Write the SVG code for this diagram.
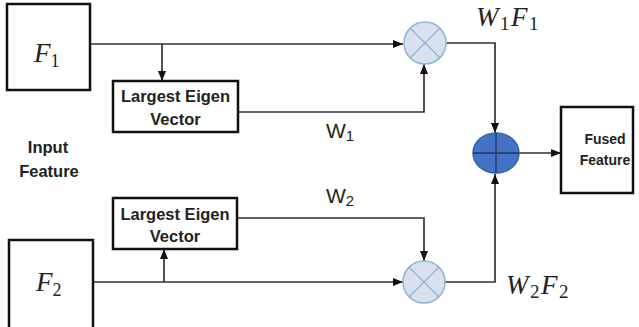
<svg xmlns="http://www.w3.org/2000/svg" width="639" height="327" viewBox="0 0 639 327">
<style>
.box{fill:#fff;stroke:#111;stroke-width:2.5}
.conn{fill:none;stroke:#333;stroke-width:1.7}
.lbl{font-family:"Liberation Sans",Arial,sans-serif;font-weight:bold;font-size:16.5px;fill:#222;text-anchor:middle}
.sm{font-size:14px}
.math{font-family:"Liberation Serif","Times New Roman",serif;font-style:italic;fill:#222}
.wl{font-family:"Liberation Sans",Arial,sans-serif;fill:#222}
.mul{fill:#d9e1ec;stroke:#8db3dc;stroke-width:1.5}
.mulx{stroke:#8db3dc;stroke-width:1.3}
.sum{fill:#4472c4;stroke:#3a64b0;stroke-width:1.5}
.sumx{stroke:#1f3864;stroke-width:1.3}
</style>
<defs>
<marker id="ah" markerUnits="userSpaceOnUse" markerWidth="10" markerHeight="10" viewBox="0 0 10 10" refX="10" refY="5" orient="auto">
<path d="M0,1 L10,5 L0,9 Z" fill="#111"/>
</marker>
</defs>
<rect width="639" height="327" fill="#fff"/>
<g id="connectors">
<path class="conn" d="M90,44 H403" marker-end="url(#ah)"/>
<path class="conn" d="M162,44 V81" marker-end="url(#ah)"/>
<path class="conn" d="M238,112 H424 V64" marker-end="url(#ah)"/>
<path class="conn" d="M446,43 H495 V133" marker-end="url(#ah)"/>
<path class="conn" d="M519,153 H561" marker-end="url(#ah)"/>
<path class="conn" d="M92,282 H403" marker-end="url(#ah)"/>
<path class="conn" d="M164,282 V249" marker-end="url(#ah)"/>
<path class="conn" d="M237,218 H424 V261" marker-end="url(#ah)"/>
<path class="conn" d="M445,282 H495 V174" marker-end="url(#ah)"/>
</g>
<g id="F1">
<rect class="box" x="7" y="4" width="83" height="86"/>
<text class="math" x="34" y="62" font-size="27">F<tspan font-style="normal" font-size="18" dy="5">1</tspan></text>
</g>
<g id="F2">
<rect class="box" x="9" y="240" width="84" height="90"/>
<text class="math" x="36" y="291" font-size="27">F<tspan font-style="normal" font-size="18" dy="5">2</tspan></text>
</g>
<g id="input-feature">
<text class="lbl" x="48" y="153">Input</text>
<text class="lbl" x="49" y="177">Feature</text>
</g>
<g id="eigen1">
<rect class="box" x="113" y="81" width="125" height="51"/>
<text class="lbl" x="175.5" y="102">Largest Eigen</text>
<text class="lbl" x="175.5" y="125">Vector</text>
</g>
<g id="eigen2">
<rect class="box" x="113" y="198" width="124" height="51"/>
<text class="lbl" x="175" y="220">Largest Eigen</text>
<text class="lbl" x="175" y="242">Vector</text>
</g>
<g id="mult1">
<circle class="mul" cx="425" cy="43" r="21"/>
<path class="mulx" d="M410.2,28.2 L439.8,57.8 M439.8,28.2 L410.2,57.8"/>
</g>
<g id="mult2">
<circle class="mul" cx="424" cy="282" r="21"/>
<path class="mulx" d="M409.2,267.2 L438.8,296.8 M438.8,267.2 L409.2,296.8"/>
</g>
<g id="sum">
<ellipse class="sum" cx="496" cy="153" rx="23" ry="20"/>
<path class="sumx" d="M473,153 H519 M496,133 V173"/>
</g>
<g id="fused">
<rect class="box" x="561" y="107" width="72" height="86"/>
<text class="lbl sm" x="605" y="144">Fused</text>
<text class="lbl sm" x="605" y="165">Feature</text>
</g>
<g id="labels">
<text class="math" x="476" y="26" font-size="27" letter-spacing="1.5">W<tspan font-style="normal" font-size="19" dy="4">1</tspan><tspan dy="-4">F</tspan><tspan font-style="normal" font-size="19" dy="4">1</tspan></text>
<text class="math" x="506" y="294" font-size="27" letter-spacing="1.5">W<tspan font-style="normal" font-size="19" dy="4">2</tspan><tspan dy="-4">F</tspan><tspan font-style="normal" font-size="19" dy="4">2</tspan></text>
<text class="wl" x="326" y="138" font-size="21">W<tspan font-size="15" dy="3">1</tspan></text>
<text class="wl" x="326" y="203" font-size="21">W<tspan font-size="15" dy="3">2</tspan></text>
</g>
</svg>
